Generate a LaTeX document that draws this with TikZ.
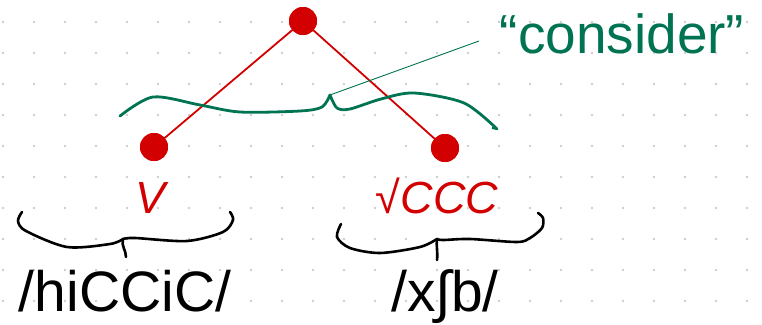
\documentclass[tikz,border=0pt]{standalone}
\usepackage{fontspec}
\setmainfont{Liberation Sans}
\definecolor{dotred}{RGB}{210,0,0}
\definecolor{notegreen}{RGB}{0,115,82}
\definecolor{gridgray}{RGB}{205,205,205}
\tikzset{
  dot/.style={circle, fill=dotred, inner sep=0pt, minimum size=28pt},
  branch/.style={dotred, line width=1.8pt},
  brace/.style={black, line width=2.6pt, line cap=round, line join=round},
  gbrace/.style={notegreen, line width=2.8pt, line cap=round, line join=round},
  form/.style={font=\fontsize{57}{60}\selectfont, anchor=base, inner sep=0pt, text depth=0pt},
  cat/.style={font=\fontsize{45}{48}\selectfont\itshape, text=dotred, anchor=base, inner sep=0pt},
}
\begin{document}
\begin{tikzpicture}[x=1pt, y=-1pt]
\useasboundingbox (0,0) rectangle (762,324);

% grid
\foreach \i in {0,...,24}
  \foreach \j in {0,...,9}
    \fill[gridgray] (3+31*\i, 22+31*\j) circle (1.3pt);

% tree
\node[dot] (top) at (303,21) {};
\node[dot] (verb) at (154,147) {};
\node[dot] (root) at (445,148) {};
\draw[branch] (top.center) -- (verb.center);
\draw[branch] (top.center) -- (root.center);
\node[dot] at (top) {};
\node[dot] at (verb) {};
\node[dot] at (root) {};

% labels
\node[cat] (vtext) at (151,213) {V};
\node[cat] (roottext) at (437,213) {√CCC};

% green brace
\coordinate (cusp) at (330,95);
\coordinate (tail) at (479,41);
\draw[gbrace] plot[smooth] coordinates {(120,116) (153,97) (200,105) (240,112) (300,111) (322,107) (330,95)};
\draw[gbrace] plot[smooth] coordinates {(330,95) (337,108) (350,109) (381,99) (414,93) (464,103) (497,129)};
\draw[notegreen, line width=2pt] (497,129) -- (492,128);
\draw[notegreen, line width=0.9pt] (cusp) -- (tail);
\node[anchor=base, inner sep=0pt, text=notegreen, font=\fontsize{55}{58}\selectfont] (consider) at (622,53) {“consider”};

% black braces
\draw[brace] plot[smooth] coordinates {(22,212) (18,221) (26,231) (67,247) (110,244) (123,239)};
\draw[brace] (123,239) .. controls (121,246) and (126,250) .. (126,257);
\draw[brace] plot[smooth] coordinates {(123,239) (135,238) (187,241) (223,232) (233,220) (230,212)};
\draw[brace] plot[smooth] coordinates {(341,224) (337,237) (350,248) (380,253) (420,247) (437,239)};
\draw[brace] (437,239) .. controls (436,246) and (438,252) .. (437,260);
\draw[brace] plot[smooth] coordinates {(437,239) (443,240) (470,239) (517,242) (530,238) (542,228) (543,218) (538,213)};

% forms
\node[form] (hiccic) at (125,311) {/hiCCiC/};
\node[form] (xfb) at (445,311) {/x∫b/};

\end{tikzpicture}
\end{document}
